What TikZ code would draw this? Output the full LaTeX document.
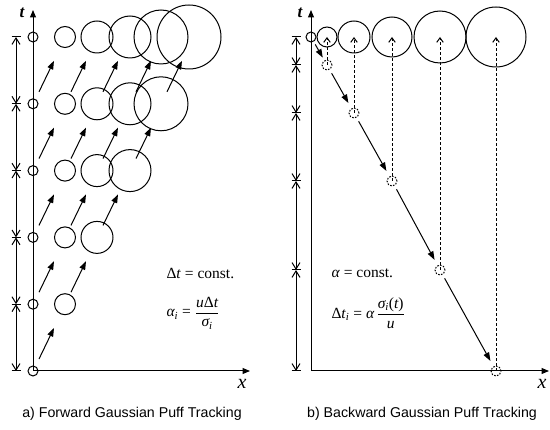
\documentclass[tikz,border=0pt]{standalone}
\usepackage{amsmath}
\usepackage{fontspec}
\setmainfont{Liberation Serif}
\newfontfamily\capfont{Liberation Sans}
\usetikzlibrary{arrows.meta,calc}
\newcommand\vi[1]{\text{\itshape #1}}
\newcommand\vu[1]{\text{#1}}
\begin{document}
\begin{tikzpicture}[x=1pt,y=-1pt,
  line width=1pt,
  circ/.style={circle,draw,line width=1pt,inner sep=0pt,minimum size=#1},
  dcirc/.style={circle,draw,dash pattern=on 1.6pt off 1.4pt,line width=1pt,inner sep=0pt,minimum size=10pt},
  axisline/.style={line width=1pt,{Triangle[length=7.5pt,width=6pt]}-{Triangle[length=7.5pt,width=6pt]}},
  farrow/.style={line width=1pt,-{Triangle[length=8.5pt,width=6pt]}},
  dimline/.style={line width=1pt,{Straight Barb[length=6.5pt,width=8pt]}-{Straight Barb[length=6.5pt,width=8pt]}},
  dasharrow/.style={line width=1pt,dash pattern=on 3pt off 2pt,-{Straight Barb[length=4.5pt,width=6.5pt]}},
  mtext/.style={anchor=west,inner sep=0pt,font=\fontsize{15.5}{17}\selectfont},
  tlabel/.style={font=\bfseries\itshape\fontsize{17}{17}\selectfont,inner sep=0pt},
  xlabel/.style={font=\itshape\fontsize{20}{20}\selectfont,inner sep=0pt},
  caption/.style={font=\capfont\fontsize{14.2}{16}\selectfont,inner sep=0pt}]
\useasboundingbox (0,0) rectangle (550,430);

% ---------------- left panel ----------------
\foreach \k/\x/\d in {0/33/10,1/65/21,2/97/32,3/130/42,4/161/54,5/189/64}{
  \foreach \j in {\k,...,5}{
    \node[circ=\d pt] (L-\k-\j) at (\x,{371-66.8*\j}) {};
  }
}
\foreach \k in {0,...,4}{
  \foreach \j in {\k,...,4}{
    \draw[farrow] ([shift={(6,-12)}]L-\k-\j.center) -- ++(15,-31);
  }
}
\coordinate (T1) at (33,10);
\coordinate (X1) at (250,371);
\draw[axisline] (T1) -- (L-0-0.center) -- (X1);
\foreach \j in {0,...,5}{
  \coordinate (dl\j) at (16,{371-66.8*\j});
  \draw ($(dl\j)+(-4.5,0)$) -- ($(dl\j)+(4.5,0)$);
}
\foreach \j [evaluate=\j as \n using int(\j+1)] in {0,...,4}{
  \draw[dimline] (dl\j) -- (dl\n);
}
\node[tlabel] (tL) at (22,13) {t};
\node[xlabel] (xL) at (242,384) {x};
\node[mtext] (eqL1) at (166,273) {Δ\textit{t} = const.};
\node[mtext] (eqL2) at (166,313) {$\vi{α}_{\vi{i}}\mathrel{\vu{=}}\dfrac{\vi{u}\vu{Δ}\vi{t}}{\vi{σ}_{\vi{i}}}$};
\node[caption] (capL) at (132,414) {a) Forward Gaussian Puff Tracking};

% ---------------- right panel ----------------
\foreach \i/\x/\d in {0/311/10,1/327/20,2/354/32,3/392/40,4/440/52,5/496/60}{
  \node[circ=\d pt] (R\i) at (\x,37) {};
}
\foreach \i/\x/\y in {1/327/65,2/354/113,3/392/181,4/440/270,5/496/371}{
  \node[dcirc] (D\i) at (\x,\y) {};
  \draw[dasharrow] (D\i.center) -- (R\i.center);
}
\draw[farrow,shorten <=3pt,shorten >=3pt] (R0) -- (D1);
\draw[farrow,shorten <=4pt,shorten >=6pt] (D1) -- (D2);
\draw[farrow,shorten <=4pt,shorten >=6pt] (D2) -- (D3);
\draw[farrow,shorten <=4pt,shorten >=6pt] (D3) -- (D4);
\draw[farrow,shorten <=4pt,shorten >=6pt] (D4) -- (D5);
\coordinate (T2) at (311,10);
\coordinate (C2) at (311,371);
\coordinate (X2) at (549,371);
\draw[axisline] (T2) -- (C2) -- (X2);
\foreach \i/\y in {0/37,1/65,2/113,3/181,4/270,5/371}{
  \coordinate (dr\i) at (296,\y);
  \draw ($(dr\i)+(-4.5,0)$) -- ($(dr\i)+(4.5,0)$);
}
\foreach \i [evaluate=\i as \n using int(\i+1)] in {0,...,4}{
  \draw[dimline] (dr\i) -- (dr\n);
}
\node[tlabel] (tR) at (300,13) {t};
\node[xlabel] (xR) at (542,384) {x};
\node[mtext] (eqR1) at (331,273) {\textit{α} = const.};
\node[mtext] (eqR2) at (331,313) {$\vu{Δ}\vi{t}_{\vi{i}}\mathrel{\vu{=}}\vi{α}\,\dfrac{\vi{σ}_{\vi{i}}\vu{(}\vi{t}\vu{)}}{\vi{u}}$};
\node[caption] (capR) at (422,414) {b) Backward Gaussian Puff Tracking};
\end{tikzpicture}
\end{document}
